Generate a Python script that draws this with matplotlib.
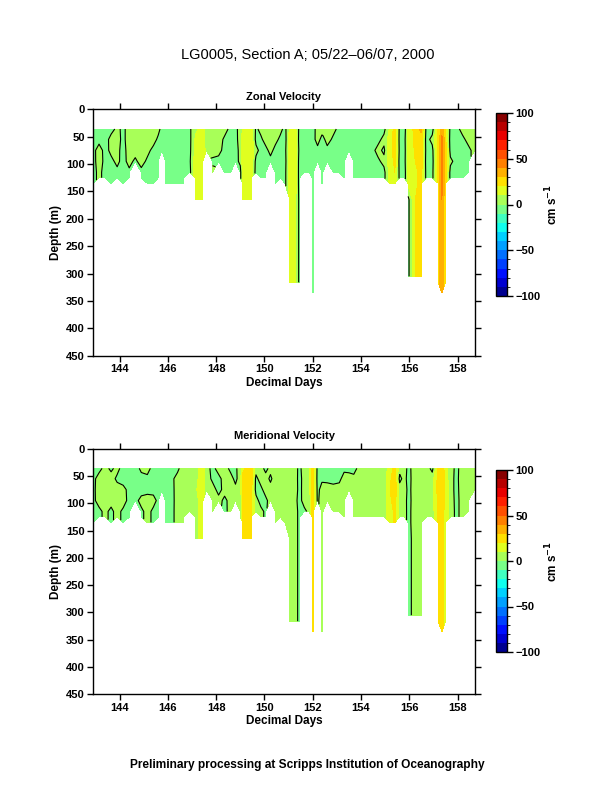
import matplotlib
matplotlib.use("Agg")
import matplotlib.pyplot as plt
import numpy as np
from matplotlib.colors import ListedColormap, BoundaryNorm

n = np.nan

# profile times (decimal days) and deepest good bin (m)
days = [142.90, 143.15, 143.40, 143.65, 143.90, 144.15, 144.40, 144.65, 144.90, 145.15,
        145.40, 145.60, 145.75, 145.90, 146.15, 146.40, 146.65, 146.90, 147.15, 147.45,
        147.60, 147.85, 148.10, 148.35, 148.60, 148.80, 149.00, 149.10, 149.45, 149.65,
        149.85, 150.05, 150.25, 150.45, 150.65, 150.85, 151.05, 151.25, 151.45, 151.65,
        151.85, 151.98, 152.02, 152.20, 152.38, 152.42, 152.60, 152.85, 153.10, 153.30,
        153.50, 153.70, 153.95, 154.20, 154.45, 154.70, 154.95, 155.20, 155.40, 155.60,
        155.80, 155.95, 156.25, 156.50, 156.70, 156.95, 157.20, 157.35, 157.50, 157.70,
        157.95, 158.20, 158.45, 158.70]
bottom = [135, 130, 125, 135, 125, 135, 125, 95, 125, 135,
          135, 125, 75, 135, 135, 135, 135, 115, 165, 165,
          75, 115, 95, 115, 115, 95, 125, 165, 165, 115,
          125, 125, 95, 135, 125, 135, 316, 316, 316, 115,
          115, 335, 335, 95, 335, 335, 95, 115, 115, 125,
          75, 125, 125, 125, 125, 125, 125, 135, 135, 125,
          125, 305, 305, 305, 125, 125, 316, 335, 316, 125,
          125, 125, 115, 75]

# zonal velocity (cm/s) at 36, 55, 75, 95, 115 m and below 140 m
u36 = [-3, -4, -5, -3, 2, -2, 4, 6, 5, 6, 5, 3, -3, -4, -4, -3, -3, -2, 8, 14,
       4, 5, 6, 4, -3, -2, 3, 12, 16, -2, 3, 5, 6, 5, 3, -3, 12, 15, -3, -4,
       -3, -4, -4, 5, 4, 5, 6, 3, -3, -3, -4, -4, -3, -4, -3, -4, -3, 12, 24, -3,
       -4, 12, 24, 33, -3, -4, 22, 36, 22, -3, -4, 4, 5, 6]
u55 = [-2, -3, -4, 3, 4, -3, 6, 7, 3, 5, 4, -2, -4, -5, -4, -4, -4, -3, 12, 16,
       3, 6, 5, -2, -4, -3, 4, 14, 17, -3, -2, 4, 5, 3, -2, -4, 14, 17, -4, -3,
       -4, -3, -3, 4, -3, -3, 4, -2, -4, -4, -3, -3, -4, -3, -4, -3, 3, 15, 26, -4,
       -3, 14, 22, 25, -4, 3, 22, 42, 22, -4, -3, -3, 4, 5]
u75 = [-3, 4, -3, 2, 3, -4, 5, 4, 6, 3, -3, -4, -4, -4, -5, -4, -3, -3, 14, 18,
       5, 4, 3, -3, -3, -4, 3, 15, 18, 3, -3, -3, 3, -3, -4, -3, 15, 18, -3, -4,
       -3, -4, -4, -3, -4, -4, -3, -4, -3, -4, -4, -4, -3, -4, -3, 3, -2, 16, 25, -3,
       -4, 15, 21, 24, -3, -3, 24, 45, 24, -3, -4, -4, -3, 4]
u95 = [-4, 5, -3, -2, 2, -3, 3, -2, 4, -2, -3, -4, n, -3, -4, -3, -4, -2, 15, 17,
       n, -2, -3, -4, -4, -3, 2, 14, 16, -3, -4, -3, -3, -4, -3, -4, 16, 17, -4, -3,
       -4, -3, -3, -4, -3, -3, -4, -3, -4, -3, n, -3, -4, -3, -4, -2, 3, 15, 22, -4,
       -3, 13, 20, 24, -4, -4, 24, 44, 24, 2, -3, -3, -3, n]
u115 = [-4, 3, -4, -3, -2, -3, -2, n, -3, -4, -4, -5, n, -4, -3, -3, -3, -3, 15, 16,
        n, 3, n, -3, -3, n, -3, 13, 15, -4, -3, -4, n, -3, -4, -3, 15, 16, -4, -4,
        -3, -3, -3, n, -3, -3, n, -3, -3, -4, n, -4, -3, -4, -3, -3, -3, 14, 20, -3,
        -4, 12, 18, 23, -3, -3, 23, 42, 23, -3, -4, -4, -4, n]
u_deep = [n, n, n, n, n, n, n, n, n, n, n, n, n, n, n, n, n, n, 15, 16,
          n, n, n, n, n, n, n, 13, 15, n, n, n, n, n, n, n, 14, 15, -3, n,
          n, -3, -3, n, n, n, n, n, n, n, n, n, n, n, n, n, n, n, n, n,
          n, -3, 20, 24, n, n, 22, 40, 22, n, n, n, n, n]

# meridional velocity (cm/s), same bins
v36 = [-4, -3, 3, -2, 3, -4, -3, -4, 2, 3, -3, -4, -4, -3, -3, -2, 5, 6, 7, 15,
       4, -3, 4, 5, -3, -2, 5, 18, 25, 5, 4, -3, 3, 4, 5, 4, 6, 5, -3, 6,
       7, 22, 20, -3, -3, -3, -4, -3, -4, -3, -3, -4, 4, 5, 4, 5, 4, 15, 24, 4,
       5, -3, 5, 6, 5, -3, 22, 26, 15, 5, -3, 5, 4, 5]
v55 = [-3, 4, 5, 4, -2, -3, -4, -3, -3, -2, -4, -4, -4, -4, -2, 3, 6, 5, 8, 14,
       5, -2, -3, 4, 4, -3, 6, 22, 26, -3, 5, 4, -2, 5, 6, 5, 8, 6, -4, 5,
       6, 24, 22, -4, -2, -2, -3, -4, -3, 5, 4, 3, 5, 4, 5, 6, 5, 18, 26, -3,
       4, -4, 6, 7, 4, 5, 24, 28, 16, 4, -3, 6, 5, 4]
v75 = [-3, 5, 6, 3, 4, 2, -2, -4, -4, -3, -3, -3, -3, -3, -3, 4, 6, 7, 9, 15,
       3, 4, -3, 3, 5, 3, 5, 24, 24, -4, -3, 5, 4, 3, 5, 6, 7, 5, -3, 4,
       5, 25, 24, -3, 4, 4, 5, 4, 5, 6, 5, 5, 6, 5, 6, 5, 4, 20, 27, 5,
       6, -3, 5, 6, 6, 4, 25, 27, 18, 4, -3, 5, 5, 6]
v95 = [-2, 3, 4, 3, 5, 4, -3, -3, 3, 4, 3, -2, n, -3, -4, 5, 5, 6, 8, 13,
       n, 3, 3, -2, 3, 4, 4, 22, 23, 4, -4, -3, 5, 4, 4, 5, 6, 4, -4, 5,
       4, 23, 22, -2, 5, 5, 4, 5, 6, 5, n, 4, 5, 4, 4, 4, 5, 18, 24, 4,
       5, -4, 6, 5, 5, 6, 23, 26, 17, 5, -3, 4, 4, n]
v115 = [-3, -2, 2, -2, 3, -2, -3, n, -2, 3, -2, -3, n, -2, -3, 4, 4, 5, 8, 14,
        n, 5, n, -3, 4, n, 3, 20, 22, 3, 3, -2, n, 5, 3, 4, 8, 5, -3, -3,
        3, 22, 21, n, 4, 4, n, 3, 4, 4, n, 3, 4, 5, 5, 4, 6, 16, 22, 5,
        4, -3, 5, 6, 4, 5, 22, 25, 16, 6, -3, 4, 5, n]
v_deep = [n, n, n, n, n, n, n, n, n, n, n, n, n, n, n, n, n, n, 8, 14,
          n, n, n, n, n, n, n, 20, 22, n, n, n, n, n, n, n, 7, 5, -3, n,
          n, 22, 21, n, 6, 6, n, n, n, n, n, n, n, n, n, n, n, n, n, n,
          n, -4, 5, 5, n, n, 22, 24, 15, n, n, n, n, n]

depth_rows = np.array([36, 55, 75, 95, 115, 125, 135, 165, 230, 305, 316, 335])
row_src = [0, 1, 2, 3, 4, 4, 4, 5, 5, 5, 5, 5]


def make_grid(rows):
    a = np.array(rows, dtype=float)[row_src]
    a[depth_rows[:, None] > np.array(bottom)[None, :]] = np.nan
    return np.ma.masked_invalid(a)


colors = ['#000090', '#0000d0', '#0010ff', '#0040ff', '#0070ff',
          '#00a0ff', '#00d0ff', '#10ffee', '#40ffc0', '#78ff88',
          '#a8ff58', '#e0ff20', '#ffe000', '#ffb000', '#ff8000',
          '#ff5000', '#ff2000', '#e80000', '#b80000', '#880000']
cmap = ListedColormap(colors)
levels = np.arange(-100, 101, 10)
norm = BoundaryNorm(levels, cmap.N)

plt.rcParams['font.family'] = ['Liberation Sans', 'DejaVu Sans']
plt.rcParams['font.weight'] = 'bold'

fig = plt.figure(figsize=(6.12, 7.92), dpi=100)
W, H = 612.0, 792.0

panels = [("Zonal Velocity", [u36, u55, u75, u95, u115, u_deep], 109.3, 355.7, 113, 296),
          ("Meridional Velocity", [v36, v55, v75, v95, v115, v_deep], 448.7, 694.3, 470, 652)]

T, Z = np.meshgrid(days, depth_rows)
for title, rows, ytop, ybot, ctop, cbot in panels:
    ax = fig.add_axes([93 / W, 1 - ybot / H, 382 / W, (ybot - ytop) / H])
    field = make_grid(rows)
    cf = ax.contourf(T, Z, field, levels=levels, cmap=cmap, norm=norm)
    ax.contour(T, Z, field, levels=[0], colors='k', linewidths=0.8)
    ax.set_xlim(142.9, 158.72)
    ax.set_ylim(450, 0)
    ax.set_xticks(np.arange(144, 159, 2))
    ax.set_yticks(np.arange(0, 451, 50))
    ax.tick_params(direction='out', length=4, width=1, labelsize=8,
                   top=True, right=True, pad=2)
    for s in ax.spines.values():
        s.set_linewidth(1)
    ax.set_title(title, fontsize=8, fontweight='bold', pad=7)
    ax.set_xlabel("Decimal Days", fontsize=8.5, fontweight='bold', labelpad=2)
    ax.set_ylabel("Depth (m)", fontsize=8.5, fontweight='bold', labelpad=3)

    cax = fig.add_axes([496 / W, 1 - cbot / H, 11 / W, (cbot - ctop) / H])
    cb = fig.colorbar(cf, cax=cax, ticks=[-100, -50, 0, 50, 100])
    cb.outline.set_linewidth(1)
    cax.tick_params(direction='out', length=4, width=1, labelsize=8, pad=2)
    cb.set_label("cm s$^{-1}$", fontsize=8.5, fontweight='bold', labelpad=2)

fig.text(0.503, 1 - 55 / H, "LG0005, Section A; 05/22\u201306/07, 2000",
         ha='center', va='center', fontsize=10.5, fontweight='normal')
fig.text(0.502, 1 - 765 / H,
         "Preliminary processing at Scripps Institution of Oceanography",
         ha='center', va='center', fontsize=8.6, fontweight='bold')

fig.savefig("out.png", dpi=100)
